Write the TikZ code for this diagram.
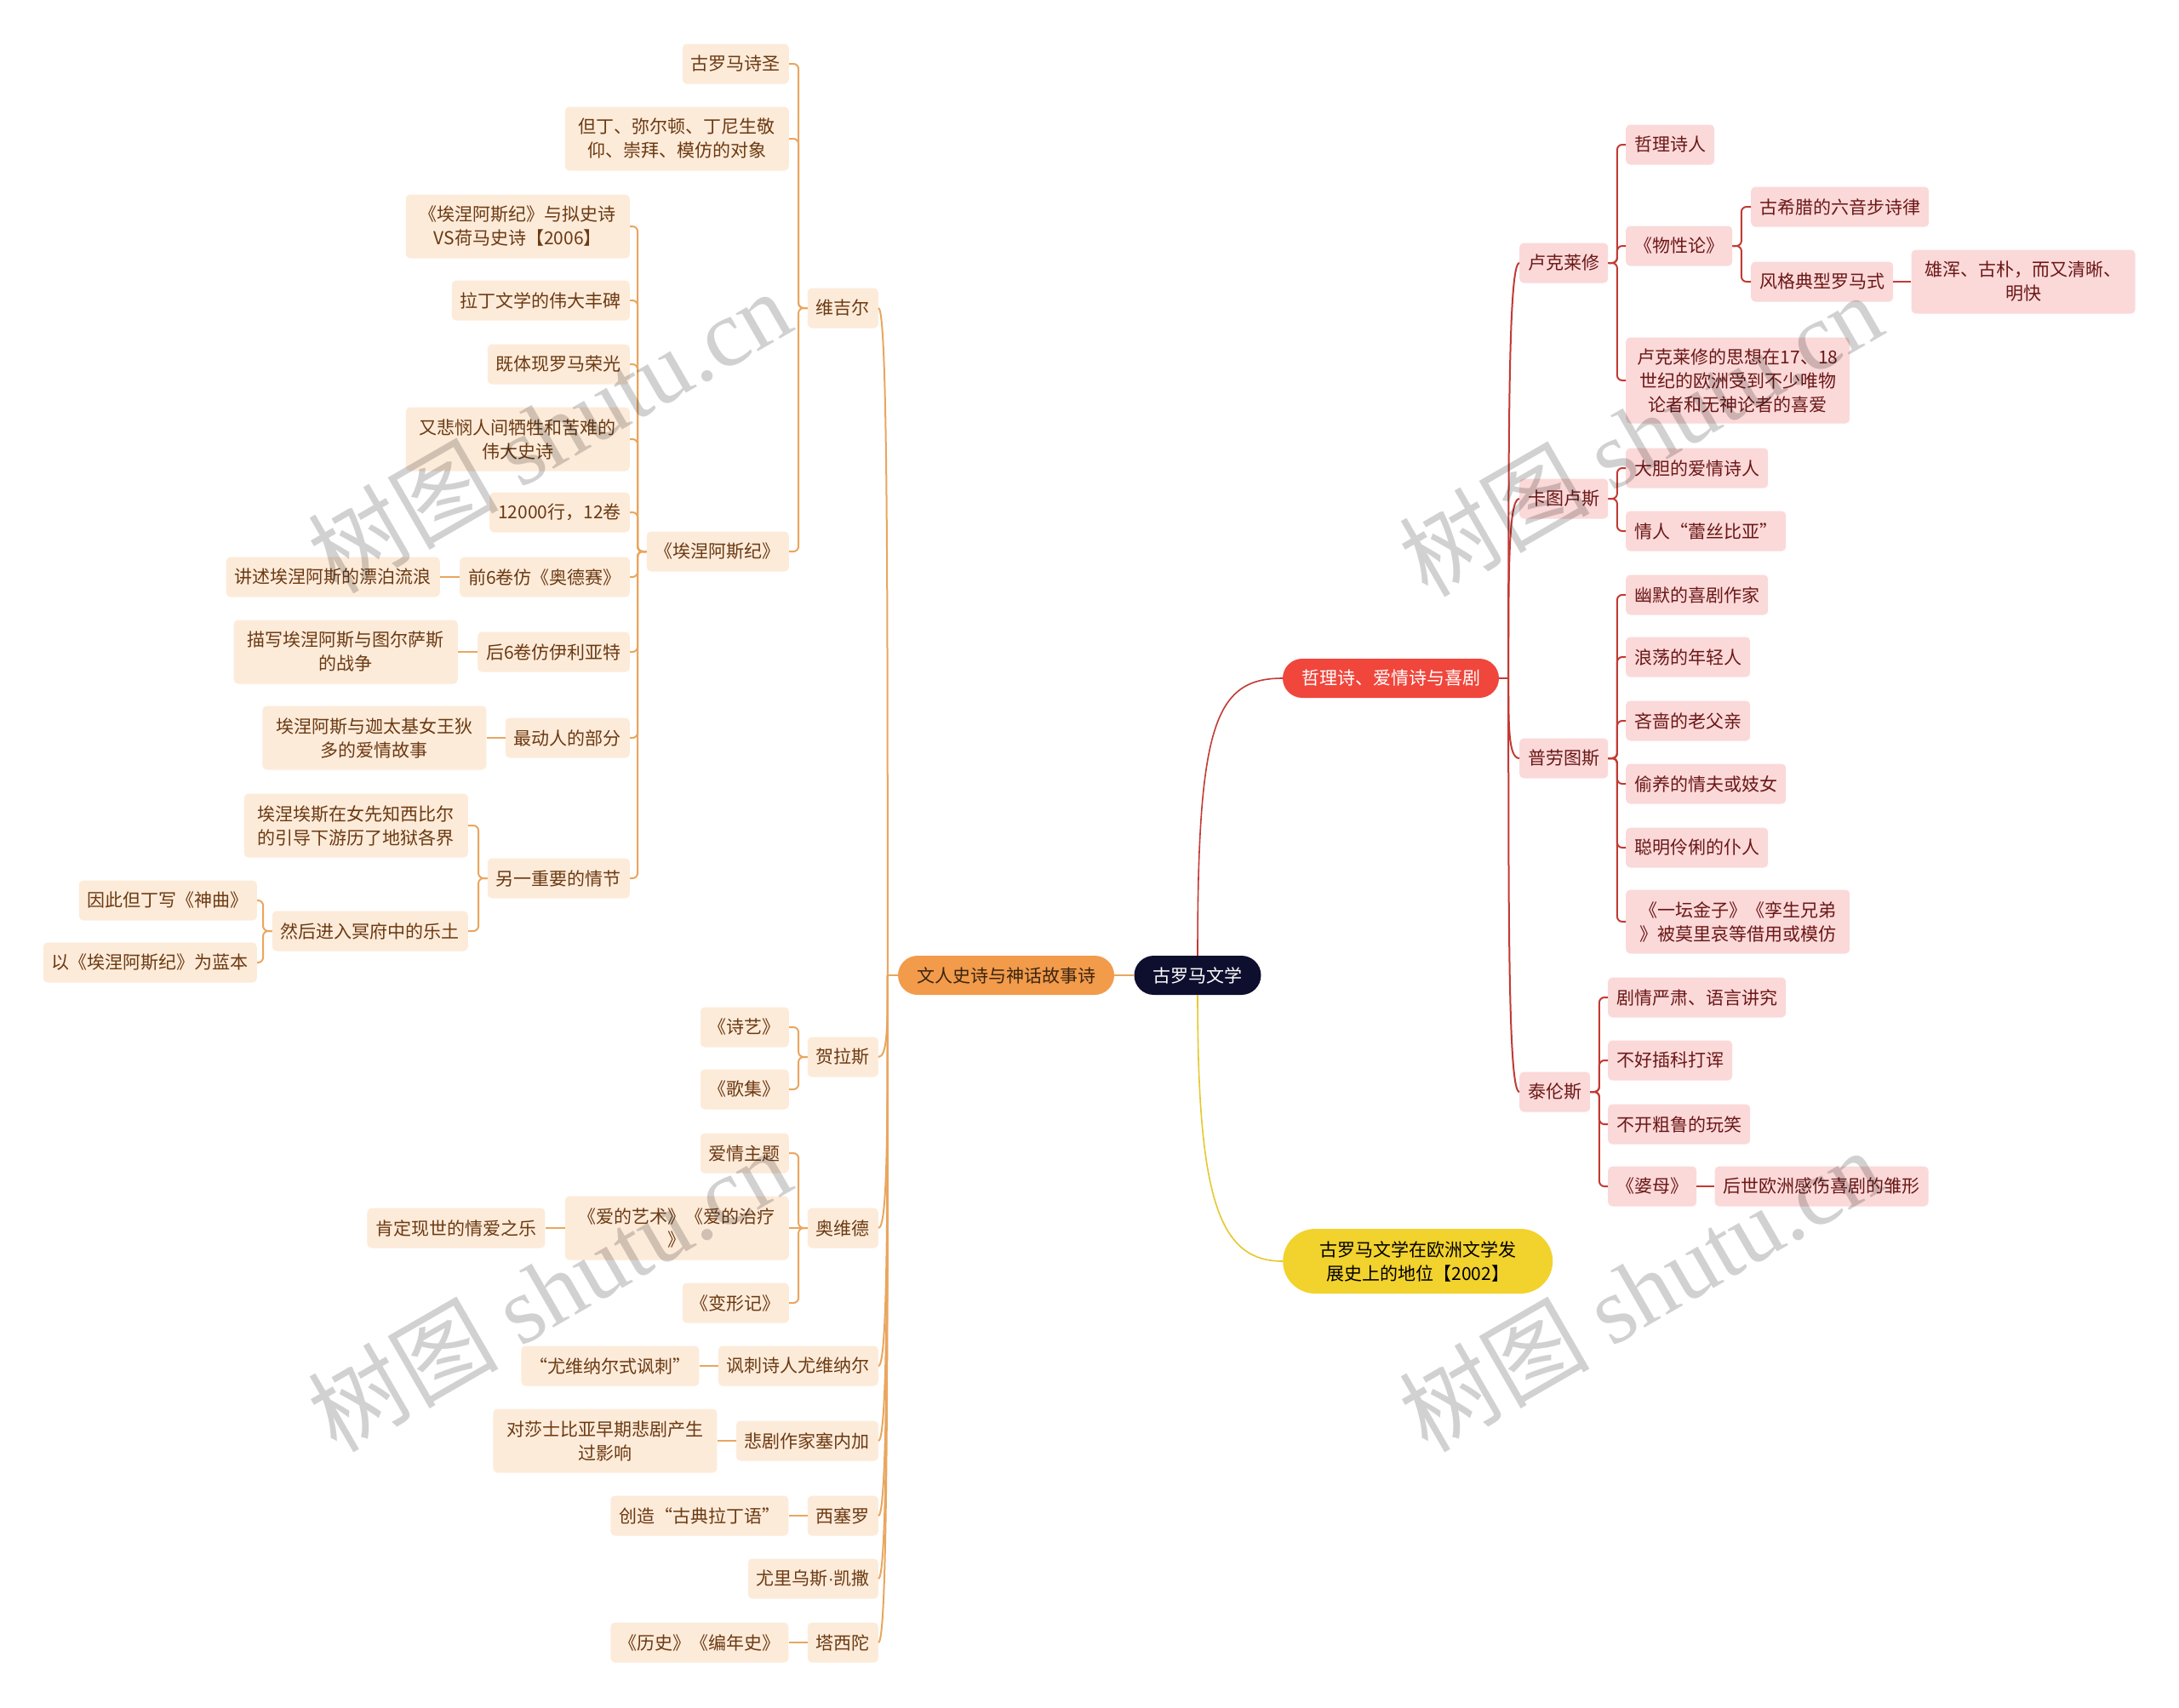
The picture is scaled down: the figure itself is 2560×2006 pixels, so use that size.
\documentclass[tikz,border=0pt]{standalone}
\usepackage{fontspec}
\setmainfont{Noto Sans CJK SC}
\newfontfamily\wmserif{Liberation Serif}
\newfontfamily\latinsans{Liberation Sans}
\usetikzlibrary{calc}
\definecolor{oline}{HTML}{E9A65F}
\definecolor{lfill}{HTML}{FDEBDA}
\definecolor{ltext}{HTML}{6B3A12}
\definecolor{ofill}{HTML}{F29B4B}
\definecolor{otext}{HTML}{3A2410}
\definecolor{rfill}{HTML}{FBD9D9}
\definecolor{rtext}{HTML}{6B1717}
\definecolor{rline}{HTML}{C23A34}
\definecolor{redc}{HTML}{F0463C}
\definecolor{yfill}{HTML}{F2D22C}
\definecolor{yline}{HTML}{E6C82E}
\definecolor{rootc}{HTML}{0E0E2E}
\tikzset{
  base/.style={rounded corners=5pt, inner xsep=10pt, inner ysep=0pt, minimum height=47pt,
    font=\fontsize{21pt}{28pt}\selectfont},
  lbox/.style={base, fill=lfill, text=ltext, anchor=east},
  rbox/.style={base, fill=rfill, text=rtext, anchor=west},
  two/.style={text width=243pt, align=center, minimum height=75pt},
  three/.style={text width=243pt, align=center, minimum height=101pt},
  lzero/.style={font=\fontsize{21pt}{28pt}\selectfont, minimum height=46pt, rounded corners=23pt, inner xsep=22pt, inner ysep=0pt},
  ol/.style={draw=oline, line width=2pt},
  rl/.style={draw=rline, line width=2pt},
  yl/.style={draw=yline, line width=2pt},
  wm/.style={font=\fontsize{112pt}{112pt}\selectfont, text=black, text opacity=0.18, rotate=30}
}
% level-1 curve: from junction #2 to child anchor #3
\newcommand\lcurve[3]{\draw[#1] (#2) .. controls ($(#2)!0.6!(#2 |- #3)$) and (#2 |- #3) .. (#3);}
% bracket connectors
\newcommand\lbrk[3]{\draw[#1, rounded corners=6pt] (#2.west) -- ++(-10.5,0) |- (#3.east);}
\newcommand\rbrk[3]{\draw[#1, rounded corners=6pt] (#2.east) -- ++(10.5,0) |- (#3.west);}
\begin{document}
\begin{tikzpicture}[x=1pt,y=-1pt]
\useasboundingbox (0,0) rectangle (2560,2006);
\fill[white] (0,0) rectangle (2560,2006);

% ---------- level 0 ----------
\node[lzero, fill=rootc, text=white] (root) at (1407,1146) {古罗马文学};
\node[lzero, fill=ofill, text=otext] (lit) at (1182,1146) {文人史诗与神话故事诗};
\node[lzero, fill=redc, text=white] (phil) at (1634,797) {哲理诗、爱情诗与喜剧};
\node[lzero, fill=yfill, text=black, text width=261pt, align=center, inner xsep=28pt,
      minimum height=76pt, rounded corners=38pt, anchor=west] (pos) at (1507,1482)
      {古罗马文学在欧洲文学发\\展史上的地位【2002】};

% ---------- left level 1 ----------
\node[lbox] (vir) at (1032,362) {维吉尔};
\node[lbox] (hor) at (1032,1242) {贺拉斯};
\node[lbox] (ovi) at (1032,1443) {奥维德};
\node[lbox] (juv) at (1032,1605) {讽刺诗人尤维纳尔};
\node[lbox] (sen) at (1032,1693) {悲剧作家塞内加};
\node[lbox] (cic) at (1032,1781) {西塞罗};
\node[lbox] (cae) at (1032,1855) {尤里乌斯{\latinsans ·}凯撒};
\node[lbox] (tac) at (1032,1930) {塔西陀};

% Virgil
\node[lbox] (v1) at (927,75) {古罗马诗圣};
\node[lbox,two] (v2) at (927,163) {但丁、弥尔顿、丁尼生敬\\仰、崇拜、模仿的对象};
\node[lbox] (aen) at (927,648) {《埃涅阿斯纪》};

\node[lbox,two] (a1) at (740,266) {《埃涅阿斯纪》与拟史诗\\VS荷马史诗【2006】};
\node[lbox] (a2) at (740,353) {拉丁文学的伟大丰碑};
\node[lbox] (a3) at (740,428) {既体现罗马荣光};
\node[lbox,two] (a4) at (740,516) {又悲悯人间牺牲和苦难的\\伟大史诗};
\node[lbox] (a5) at (740,602) {12000行，12卷};
\node[lbox] (a6) at (740,678) {前6卷仿《奥德赛》};
\node[lbox] (a7) at (740,766) {后6卷仿伊利亚特};
\node[lbox] (a8) at (740,867) {最动人的部分};
\node[lbox] (a9) at (740,1032) {另一重要的情节};

\node[lbox] (a6c) at ([xshift=-23pt]a6.west) {讲述埃涅阿斯的漂泊流浪};
\node[lbox,two] (a7c) at ([xshift=-23pt]a7.west) {描写埃涅阿斯与图尔萨斯\\的战争};
\node[lbox,two] (a8c) at ([xshift=-22pt]a8.west) {埃涅阿斯与迦太基女王狄\\多的爱情故事};
\node[lbox,two] (a9a) at (550,970) {埃涅埃斯在女先知西比尔\\的引导下游历了地狱各界};
\node[lbox] (a9b) at (550,1094) {然后进入冥府中的乐土};
\node[lbox] (d1) at (302,1058) {因此但丁写《神曲》};
\node[lbox] (d2) at (302,1131) {以《埃涅阿斯纪》为蓝本};

% Horace
\node[lbox] (h1) at (927,1207) {《诗艺》};
\node[lbox] (h2) at (927,1280) {《歌集》};
% Ovid
\node[lbox] (o1) at (927,1355) {爱情主题};
\node[lbox,two] (o2) at (927,1443) {《爱的艺术》《爱的治疗\\》};
\node[lbox] (o3) at (927,1531) {《变形记》};
\node[lbox] (o2c) at ([xshift=-23pt]o2.west) {肯定现世的情爱之乐};
% others
\node[lbox] (juvc) at ([xshift=-22pt]juv.west) {“尤维纳尔式讽刺”};
\node[lbox,two] (senc) at ([xshift=-22pt]sen.west) {对莎士比亚早期悲剧产生\\过影响};
\node[lbox] (cicc) at ([xshift=-22pt]cic.west) {创造“古典拉丁语”};
\node[lbox] (tacc) at ([xshift=-22pt]tac.west) {《历史》《编年史》};

% ---------- right level 1 ----------
\node[rbox] (luc) at (1785,309) {卢克莱修};
\node[rbox] (cat) at (1785,586) {卡图卢斯};
\node[rbox] (pla) at (1785,891) {普劳图斯};
\node[rbox] (ter) at (1785,1283) {泰伦斯};

\node[rbox] (l1) at (1910,170) {哲理诗人};
\node[rbox] (l2) at (1910,289) {《物性论》};
\node[rbox,three] (l3) at (1910,447) {卢克莱修的思想在17、18\\世纪的欧洲受到不少唯物\\论者和无神论者的喜爱};
\node[rbox] (w1) at (2057,243) {古希腊的六音步诗律};
\node[rbox] (w2) at (2057,331) {风格典型罗马式};
\node[rbox,two] (w2c) at ([xshift=21pt]w2.east) {雄浑、古朴，而又清晰、\\明快};

\node[rbox] (c1) at (1910,550) {大胆的爱情诗人};
\node[rbox] (c2) at (1910,624) {情人“蕾丝比亚”};

\node[rbox] (p1) at (1910,699) {幽默的喜剧作家};
\node[rbox] (p2) at (1910,772) {浪荡的年轻人};
\node[rbox] (p3) at (1910,847) {吝啬的老父亲};
\node[rbox] (p4) at (1910,921) {偷养的情夫或妓女};
\node[rbox] (p5) at (1910,996) {聪明伶俐的仆人};
\node[rbox,two] (p6) at (1910,1083) {《一坛金子》《孪生兄弟\\》被莫里哀等借用或模仿};

\node[rbox] (t1) at (1889,1172) {剧情严肃、语言讲究};
\node[rbox] (t2) at (1889,1246) {不好插科打诨};
\node[rbox] (t3) at (1889,1321) {不开粗鲁的玩笑};
\node[rbox] (t4) at (1889,1394) {《婆母》};
\node[rbox] (t4c) at ([xshift=21pt]t4.east) {后世欧洲感伤喜剧的雏形};

% ---------- connectors level 0 ----------
\draw[ol] (root.west) -- (lit.east);
\draw[rl, line width=1.6pt] (root.north) .. controls +(0,-270) and +(-80,0) .. (phil.west);
\draw[yl, line width=1.6pt] (root.south) .. controls +(0,240) and +(-75,0) .. (pos.west);

% ---------- level 1 curves ----------
\draw[ol] (lit.west) -- ++(-12,0) coordinate (lj);
\lcurve{ol}{lj}{vir.east}
\lcurve{ol}{lj}{hor.east}
\lcurve{ol}{lj}{ovi.east}
\lcurve{ol}{lj}{juv.east}
\lcurve{ol}{lj}{sen.east}
\lcurve{ol}{lj}{cic.east}
\lcurve{ol}{lj}{cae.east}
\lcurve{ol}{lj}{tac.east}

\draw[rl] (phil.east) -- ++(11,0) coordinate (rj);
\lcurve{rl}{rj}{luc.west}
\lcurve{rl}{rj}{cat.west}
\lcurve{rl}{rj}{pla.west}
\lcurve{rl}{rj}{ter.west}

% ---------- brackets left ----------
\lbrk{ol}{vir}{v1}
\lbrk{ol}{vir}{v2}
\lbrk{ol}{vir}{aen}
\lbrk{ol}{aen}{a1}
\lbrk{ol}{aen}{a2}
\lbrk{ol}{aen}{a3}
\lbrk{ol}{aen}{a4}
\lbrk{ol}{aen}{a5}
\lbrk{ol}{aen}{a6}
\lbrk{ol}{aen}{a7}
\lbrk{ol}{aen}{a8}
\lbrk{ol}{aen}{a9}
\draw[ol] (a6.west) -- (a6c.east);
\draw[ol] (a7.west) -- (a7c.east);
\draw[ol] (a8.west) -- (a8c.east);
\lbrk{ol}{a9}{a9a}
\lbrk{ol}{a9}{a9b}
\lbrk{ol}{a9b}{d1}
\lbrk{ol}{a9b}{d2}
\lbrk{ol}{hor}{h1}
\lbrk{ol}{hor}{h2}
\lbrk{ol}{ovi}{o1}
\draw[ol] (ovi.west) -- (o2.east);
\lbrk{ol}{ovi}{o3}
\draw[ol] (o2.west) -- (o2c.east);
\draw[ol] (juv.west) -- (juvc.east);
\draw[ol] (sen.west) -- (senc.east);
\draw[ol] (cic.west) -- (cicc.east);
\draw[ol] (tac.west) -- (tacc.east);

% ---------- brackets right ----------
\rbrk{rl}{luc}{l1}
\rbrk{rl}{luc}{l2}
\rbrk{rl}{luc}{l3}
\rbrk{rl}{l2}{w1}
\rbrk{rl}{l2}{w2}
\draw[rl] (w2.east) -- (w2c.west);
\rbrk{rl}{cat}{c1}
\rbrk{rl}{cat}{c2}
\rbrk{rl}{pla}{p1}
\rbrk{rl}{pla}{p2}
\rbrk{rl}{pla}{p3}
\rbrk{rl}{pla}{p4}
\rbrk{rl}{pla}{p5}
\rbrk{rl}{pla}{p6}
\rbrk{rl}{ter}{t1}
\rbrk{rl}{ter}{t2}
\rbrk{rl}{ter}{t3}
\rbrk{rl}{ter}{t4}
\draw[rl] (t4.east) -- (t4c.west);

% ---------- watermarks ----------
\node[wm] (wm1) at (645,506) {树图 {\wmserif shutu.cn}};
\node[wm] (wm2) at (1927,510) {树图 {\wmserif shutu.cn}};
\node[wm] (wm3) at (645,1515) {树图 {\wmserif shutu.cn}};
\node[wm] (wm4) at (1927,1515) {树图 {\wmserif shutu.cn}};
\end{tikzpicture}
\end{document}
